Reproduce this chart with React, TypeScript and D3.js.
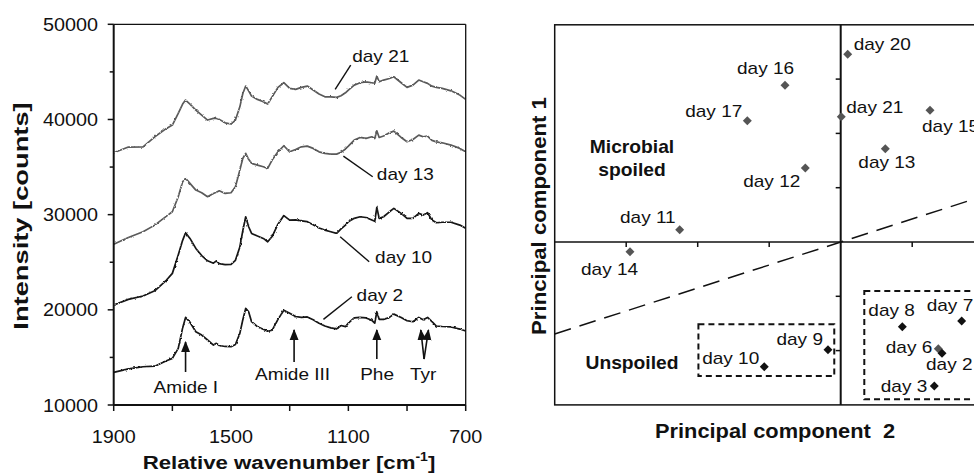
import React from "react";
import * as d3 from "d3";

// ---------- Left panel data: Raman spectra ----------
const wavenumbers = [1900,1850,1800,1760,1720,1700,1680,1665,1655,1640,1620,1600,1580,1560,1550,1540,1520,1500,1485,1470,1460,1450,1440,1430,1410,1390,1375,1360,1340,1320,1300,1280,1260,1240,1220,1200,1180,1160,1140,1125,1110,1100,1080,1060,1040,1020,1010,1003,995,980,960,945,920,900,880,860,845,830,815,800,780,750,720,700];

const day2 = [13435,13800,14020,14080,14650,14900,15950,18100,19200,18700,17700,17350,16830,16300,16480,16250,16150,16120,16350,17530,18930,20150,19800,18750,18225,17950,17750,17850,19000,19950,19650,19300,19200,19250,18950,18600,18300,18100,18000,18350,18230,18600,19150,19200,19150,18900,18600,19800,19000,19000,19200,19550,19200,18850,18750,19200,18950,19200,18750,18300,18250,18200,17980,17770];
const day10 = [20500,21100,21450,22000,23130,23830,25750,27300,28100,27500,26450,25700,25150,24900,25150,24850,24750,24780,25200,26600,28300,29780,28730,28030,27750,27500,27150,27700,29000,29900,29430,29450,29350,29260,28950,28600,28380,28200,28030,28500,28900,29260,29610,29780,29700,29430,29300,30770,29610,29780,30300,30660,30130,29610,29610,30130,29960,30200,29430,29150,29200,29200,28900,28560];
const day13 = [26900,27600,28200,28900,29850,30300,31880,33450,33810,33290,32580,32300,31880,32230,32350,32510,32230,32300,32930,34680,35900,36440,35810,35390,35210,35030,34860,35730,36600,37240,36600,36850,37130,37200,36960,36600,36440,36360,36360,36550,36900,37200,37830,38110,38010,38180,38000,38810,38110,38260,38600,38780,38110,37660,37900,38360,38180,38260,37800,37650,37550,37310,36960,36600];
const day21 = [36500,37100,37130,38180,39060,39410,40640,41620,42040,41620,40990,40460,39940,40110,40100,40010,39650,39520,39940,41330,42700,43510,43010,42460,42110,41860,41620,42380,43370,43860,43270,43160,43370,43510,43090,42670,42380,42380,42320,42500,42800,43090,43610,43860,43960,43860,43800,44560,43960,44140,44310,44490,43860,43370,43610,44140,43960,43790,43500,43370,43270,43010,42560,42110];

const spectra = [
  { name: "day 21", values: day21, color: "#5a5a5a" },
  { name: "day 13", values: day13, color: "#5a5a5a" },
  { name: "day 10", values: day10, color: "#141414" },
  { name: "day 2", values: day2, color: "#141414" },
];

const yTickValues = [10000, 20000, 30000, 40000, 50000];
const yMinorTicks = [15000, 25000, 35000, 45000];
const xTickLabels = [1900, 1500, 1100, 700];
const xTickAll = [1900, 1700, 1500, 1300, 1100, 900, 700];

// spectrum labels: leader from (wn, I), leader to (wn, I), text start (wn, I)
const spectrumLabels = [
  { text: "day 21", from: [1145, 43160], to: [1092, 45710], at: [1087, 46000] },
  { text: "day 13", from: [1117, 36150], to: [1017, 33980], at: [1003, 33630] },
  { text: "day 10", from: [1128, 27680], to: [1029, 25050], at: [1009, 24880] },
  { text: "day 2", from: [1185, 19000], to: [1088, 21370], at: [1072, 20960] },
];

// band assignments: label, label centre, arrow tips
const bandLabels = [
  { text: "Amide I", at: [1654, 11290], tips: [[1655, 16620]], tail: [1655, 13470] },
  { text: "Amide III", at: [1290, 12630], tips: [[1285, 17880]], tail: [1285, 14520] },
  { text: "Phe", at: [1002, 12630], tips: [[1003, 17880]], tail: [1003, 14830] },
  { text: "Tyr", at: [845, 12630], tips: [[853, 17880], [827, 17880]], tail: [842, 14830] },
];

// ---------- Right panel data: PCA scores ----------
const sampleNames = ["day 20","day 16","day 17","day 21","day 15","day 13","day 12","day 11","day 14","day 9","day 10","day 8","day 7","day 6","day 2","day 3"];
const pc2Scores = [0.098,-0.779,-1.306,0.008,1.249,0.624,-0.495,-2.252,-2.947,-0.178,-1.069,0.862,1.692,1.365,1.417,1.309];
const pc1Scores = [3.457,2.886,2.234,2.308,2.425,1.718,1.363,0.227,-0.179,-1.983,-2.296,-1.560,-1.455,-1.965,-2.050,-2.652];
const sampleGroup = ["s","s","s","s","s","s","s","s","s","u","u","u","u","s","u","u"];

// label placement (pixel offsets from marker, anchor)
const labelOffsets: Record<string, [number, number, string]> = {
  "day 20": [6, -4, "start"],
  "day 16": [-48, -11, "start"],
  "day 17": [-5, -4, "end"],
  "day 21": [5, -4, "start"],
  "day 15": [-8, 22, "start"],
  "day 13": [-27, 19, "start"],
  "day 12": [-5, 19, "end"],
  "day 11": [-4, -7, "end"],
  "day 14": [-49, 23, "start"],
  "day 9": [-5, -5, "end"],
  "day 10": [-5, -3, "end"],
  "day 8": [-34, -11, "start"],
  "day 7": [-35, -10, "start"],
  "day 6": [-6, 4, "end"],
  "day 2": [-16, 17, "start"],
  "day 3": [-7, 6, "end"],
};

const pcXTicks = [-3, -2, -1, 1];
const pcYTicks = [-2, -1, 1, 2, 3];
const boundary = [[-4, -1.694], [2, 0.847]];
const groupBoxes = [
  [[-1.99, -1.516], [-0.09, -2.468]],
  [[0.33, -0.902], [2.2, -2.897]],
];

const FONT = "'Liberation Sans', Arial, Helvetica, sans-serif";

function T({ x, y, children, size = 17, weight = "normal", anchor = "start", sx = 1.12, rot = 0, fill = "#111" }: any) {
  return (
    <text
      transform={`translate(${x},${y}) rotate(${rot}) scale(${sx},1)`}
      fontSize={size}
      fontWeight={weight}
      textAnchor={anchor}
      fill={fill}
      fontFamily={FONT}
      style={{ whiteSpace: "pre" }}
    >
      {children}
    </text>
  );
}

export default function App() {
  const W = 974, H = 475;
  // left panel scales
  const x = d3.scaleLinear().domain([1900, 700]).range([113.7, 465.7]);
  const y = d3.scaleLinear().domain([10000, 50000]).range([405, 24.3]);
  const line = d3
    .line<number>()
    .x((_, i) => x(wavenumbers[i]))
    .y((v) => y(v));

  // right panel scales
  const px = d3.scaleLinear().domain([-4, 2]).range([554.7, 983.7]);
  const py = d3.scaleLinear().domain([-3, 4]).range([404.9, 24.8]);
  const diamond = d3.symbol(d3.symbolSquare, 40)() as string;

  return (
    <svg width={W} height={H} style={{ position: "absolute", left: 0, top: 0, background: "#fff" }}>
      <defs>
        <filter id="rough" x="-2%" y="-10%" width="104%" height="120%">
          <feTurbulence type="fractalNoise" baseFrequency="0.35" numOctaves="2" seed="4" result="n" />
          <feDisplacementMap in="SourceGraphic" in2="n" scale="2.4" xChannelSelector="R" yChannelSelector="G" />
        </filter>
        <marker id="ah" viewBox="0 0 10 10" refX="9" refY="5" markerWidth="7" markerHeight="7" orient="auto">
          <path d="M0,1 L10,5 L0,9 Z" fill="#111" />
        </marker>
      </defs>
      <rect width={W} height={H} fill="#fff" />

      {/* ---------- LEFT PANEL ---------- */}
      <g filter="url(#rough)">
        {spectra.map((s) => (
          <path key={s.name} d={line(s.values) as string} fill="none" stroke={s.color} strokeWidth={1.7} strokeLinejoin="round" />
        ))}
      </g>
      {/* frame */}
      <line x1={x(1900)} x2={x(700)} y1={y(50000)} y2={y(50000)} stroke="#111" strokeWidth={1.3} />
      <line x1={x(700)} x2={x(700)} y1={y(50000)} y2={y(10000)} stroke="#111" strokeWidth={1.3} />
      <line x1={x(1900)} x2={x(1900)} y1={y(50000)} y2={y(10000)} stroke="#111" strokeWidth={2} />
      <line x1={x(1900)} x2={x(700)} y1={y(10000)} y2={y(10000)} stroke="#111" strokeWidth={2} />
      {yTickValues.map((v) => (
        <g key={v}>
          <line x1={x(1900) - 6} x2={x(1900)} y1={y(v)} y2={y(v)} stroke="#111" strokeWidth={1.5} />
          <T x={98} y={y(v) + 6.5} size={18} sx={1.1} anchor="end">{d3.format("d")(v)}</T>
        </g>
      ))}
      {yMinorTicks.map((v) => (
        <line key={v} x1={x(1900) - 4} x2={x(1900)} y1={y(v)} y2={y(v)} stroke="#111" strokeWidth={1.5} />
      ))}
      {xTickAll.map((v) => (
        <line key={v} x1={x(v)} x2={x(v)} y1={y(10000)} y2={y(10000) + 6} stroke="#111" strokeWidth={1.5} />
      ))}
      {xTickLabels.map((v) => (
        <T key={v} x={x(v)} y={443} size={18} sx={1.1} anchor="middle">{String(v)}</T>
      ))}
      <T x={289} y={469} size={19} weight="bold" sx={1.17} anchor="middle">
        Relative wavenumber [cm<tspan fontSize={12} dy={-8}>-1</tspan><tspan dy={8}>]</tspan>
      </T>
      <T x={28} y={216} size={21} weight="bold" sx={1.3} rot={-90} anchor="middle">Intensity [counts]</T>

      {spectrumLabels.map((l) => (
        <g key={l.text}>
          <line x1={x(l.from[0])} y1={y(l.from[1])} x2={x(l.to[0])} y2={y(l.to[1])} stroke="#111" strokeWidth={1.4} />
          <T x={x(l.at[0])} y={y(l.at[1])} size={17}>{l.text}</T>
        </g>
      ))}
      {bandLabels.map((b) => (
        <g key={b.text}>
          {b.tips.map((t, i) => (
            <line key={i} x1={x(b.tail[0])} y1={y(b.tail[1])} x2={x(t[0])} y2={y(t[1])} stroke="#111" strokeWidth={1.6} markerEnd="url(#ah)" />
          ))}
          <T x={x(b.at[0])} y={y(b.at[1])} size={17} anchor="middle">{b.text}</T>
        </g>
      ))}

      {/* ---------- RIGHT PANEL ---------- */}
      <rect x={px(-4)} y={py(4)} width={px(2) - px(-4)} height={py(-3) - py(4)} fill="none" stroke="#111" strokeWidth={1.5} />
      <line x1={px(-4)} x2={px(2)} y1={py(0)} y2={py(0)} stroke="#111" strokeWidth={1.6} />
      <line x1={px(0)} x2={px(0)} y1={py(4)} y2={py(-3)} stroke="#111" strokeWidth={2} />
      {pcXTicks.map((v) => (
        <line key={v} x1={px(v)} x2={px(v)} y1={py(0)} y2={py(0) + 5} stroke="#111" strokeWidth={1.5} />
      ))}
      {pcYTicks.map((v) => (
        <line key={v} x1={px(0) - 5} x2={px(0)} y1={py(v)} y2={py(v)} stroke="#111" strokeWidth={1.5} />
      ))}
      <line x1={px(boundary[0][0])} y1={py(boundary[0][1])} x2={px(boundary[1][0])} y2={py(boundary[1][1])} stroke="#111" strokeWidth={1.5} strokeDasharray="17 9" />
      {groupBoxes.map((b, i) => (
        <rect key={i} x={px(b[0][0])} y={py(b[0][1])} width={px(b[1][0]) - px(b[0][0])} height={py(b[1][1]) - py(b[0][1])} fill="none" stroke="#111" strokeWidth={2} strokeDasharray="6 4" />
      ))}
      {sampleNames.map((n, i) => {
        const cx = px(pc2Scores[i]);
        const cy = py(pc1Scores[i]);
        const [dx, dy, anchor] = labelOffsets[n];
        return (
          <g key={n}>
            <path d={diamond} transform={`translate(${cx},${cy}) rotate(45)`} fill={sampleGroup[i] === "s" ? "#555" : "#111"} />
            <T x={cx + dx} y={cy + dy} size={17} anchor={anchor}>{n}</T>
          </g>
        );
      })}
      <T x={632} y={153} size={17.5} weight="bold" sx={1.1} anchor="middle">Microbial</T>
      <T x={632} y={176} size={17.5} weight="bold" sx={1.1} anchor="middle">spoiled</T>
      <T x={632} y={369} size={17.5} weight="bold" sx={1.1} anchor="middle">Unspoiled</T>
      <T x={775} y={438} size={19.5} weight="bold" sx={1.12} anchor="middle">{"Principal component  2"}</T>
      <T x={546} y={216} size={20} weight="bold" sx={1.11} rot={-90} anchor="middle">Principal component 1</T>
    </svg>
  );
}
